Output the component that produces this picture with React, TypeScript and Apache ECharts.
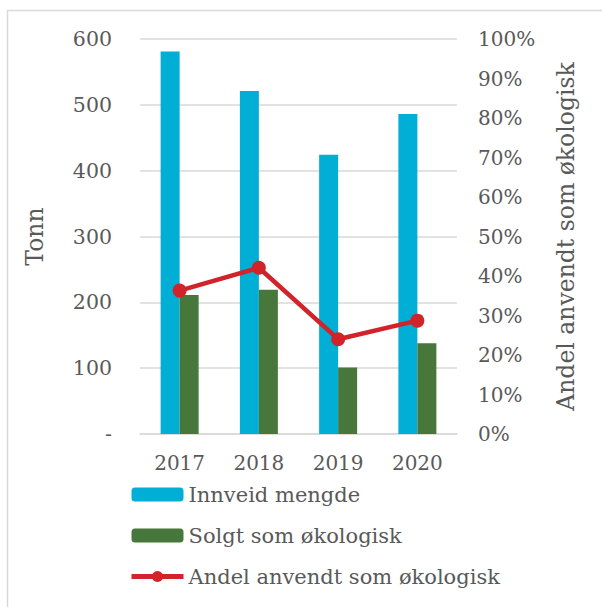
import React, { useEffect, useRef } from "react";
import * as echarts from "echarts";

const years = ["2017", "2018", "2019", "2020"];
const innveid = [581, 521, 424, 486];
const solgt = [211, 219, 101, 138];
const andel = [0.363, 0.421, 0.24, 0.287];

const FONT = "DejaVu Serif";
const TXT = "#595959";

export default function App() {
  const ref = useRef<HTMLDivElement>(null);
  useEffect(() => {
    const chart = echarts.init(ref.current!, null, { renderer: "svg" });
    chart.setOption({
      animation: false,
      textStyle: { fontFamily: FONT, color: TXT },
      graphic: [
        {
          type: "rect",
          shape: { x: 7.5, y: 10.5, width: 620, height: 620 },
          style: { fill: "none", stroke: "#D9D9D9", lineWidth: 1.5 },
          silent: true,
        },
      ],
      grid: { left: 140, right: 145, top: 39, bottom: 173 },
      legend: {
        orient: "vertical",
        left: 124,
        top: 479,
        itemWidth: 52,
        itemHeight: 14,
        itemGap: 20,
        textStyle: { fontFamily: FONT, color: TXT, fontSize: 21 },
        data: [
          { name: "Innveid mengde" },
          { name: "Solgt som økologisk" },
          {
            name: "Andel anvendt som økologisk",
            lineStyle: { width: 5, color: "#D2232A" },
          },
        ],
      },
      xAxis: {
        type: "category",
        data: years,
        axisLine: { lineStyle: { color: "#D9D9D9", width: 1.5 } },
        axisTick: { show: false },
        axisLabel: { color: TXT, fontSize: 20, fontFamily: FONT, margin: 19 },
      },
      yAxis: [
        {
          type: "value",
          min: 0,
          max: 600,
          interval: 100,
          name: "Tonn",
          nameLocation: "middle",
          nameGap: 93,
          nameRotate: 90,
          nameTextStyle: { color: TXT, fontSize: 23.5, fontFamily: FONT },
          axisLine: { show: false },
          axisTick: { show: false },
          splitLine: { lineStyle: { color: "#D9D9D9", width: 1.5 } },
          axisLabel: {
            color: TXT,
            fontSize: 20.5,
            fontFamily: FONT,
            margin: 28,
            formatter: (v: number) => (v === 0 ? "-" : String(v)),
          },
        },
        {
          type: "value",
          min: 0,
          max: 1,
          interval: 0.1,
          name: "Andel anvendt som økologisk",
          nameLocation: "middle",
          nameGap: 97,
          nameRotate: 90,
          nameTextStyle: { color: TXT, fontSize: 23.5, fontFamily: FONT },
          axisLine: { show: false },
          axisTick: { show: false },
          splitLine: { show: false },
          axisLabel: {
            color: TXT,
            fontSize: 20,
            fontFamily: FONT,
            margin: 21,
            formatter: (v: number) => Math.round(v * 100) + "%",
          },
        },
      ],
      series: [
        {
          name: "Innveid mengde",
          type: "bar",
          data: innveid,
          barWidth: 19,
          barGap: "0%",
          itemStyle: { color: "#00AED6" },
        },
        {
          name: "Solgt som økologisk",
          type: "bar",
          data: solgt,
          barWidth: 19,
          barGap: "0%",
          itemStyle: { color: "#47773A" },
        },
        {
          name: "Andel anvendt som økologisk",
          type: "line",
          yAxisIndex: 1,
          data: andel,
          symbol: "circle",
          symbolSize: 14,
          lineStyle: { color: "#D2232A", width: 4.5 },
          itemStyle: { color: "#D2232A" },
        },
      ],
    });
    return () => chart.dispose();
  }, []);
  return (
    <div
      ref={ref}
      style={{ position: "absolute", left: 0, top: 0, width: 602, height: 607 }}
    />
  );
}
